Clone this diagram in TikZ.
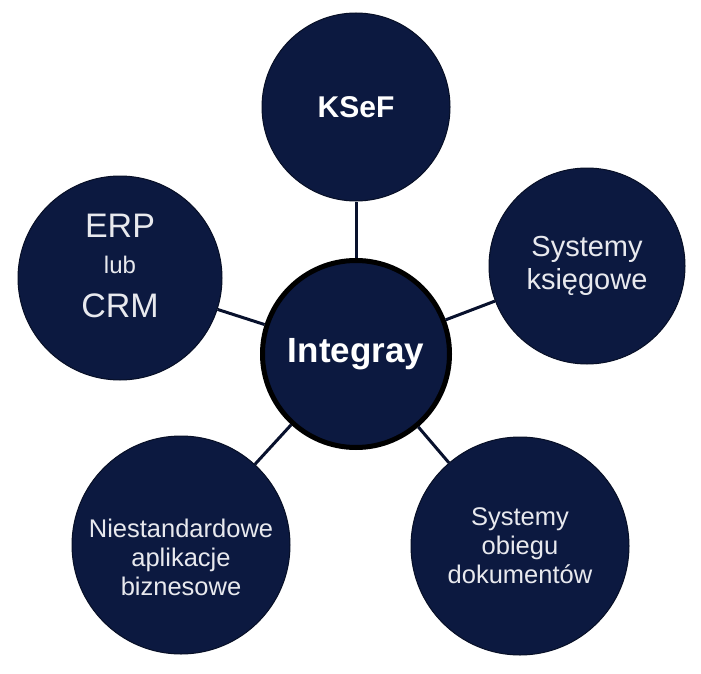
\documentclass[tikz,border=0pt]{standalone}
\usepackage{fontspec}
\setmainfont{Liberation Sans}
\definecolor{navy}{RGB}{12,25,64}
\definecolor{paleText}{RGB}{232,233,238}
\begin{document}
\begin{tikzpicture}[x=1pt,y=-1pt,
    hub/.style={circle,draw=black,line width=5pt,fill=navy,text=white,
      inner sep=0pt,minimum size=187pt,font=\bfseries\fontsize{35}{40}\selectfont},
    sat/.style={circle,draw=navy!60!black,line width=1pt,fill=navy,text=paleText,
      inner sep=0pt,align=center},
    link/.style={line width=3pt,draw=navy!70!black}
    ]
  \useasboundingbox (0,0) rectangle (701,674);

  \node[sat,minimum size=188pt,text=white,font=\bfseries\fontsize{30}{36}\selectfont] (ksef) at (356,107) {KSeF};
  \node[sat,minimum size=196pt,font=\fontsize{29}{33}\selectfont] (ksiegowe) at (587,266) {Systemy\\księgowe};
  \node[sat,minimum size=218pt,font=\fontsize{25.5}{29}\selectfont] (obieg) at (520,546) {Systemy\\obiegu\\dokumentów};
  \node[sat,minimum size=218pt,font=\fontsize{25.5}{29}\selectfont] (biznes) at (181,545)
    {\rule{0pt}{43pt}Niestandardowe\\aplikacje\\biznesowe};
  \node[sat,minimum size=204pt,font=\fontsize{34}{40}\selectfont] (erp) at (120,278)
    {ERP\\[-4pt]{\fontsize{24}{28}\selectfont lub}\\[4pt]CRM\rule[-25pt]{0pt}{25pt}};
  \node[hub] (integray) at (356,354) {Integray};

  \foreach \n in {ksef,ksiegowe,obieg,biznes,erp}
    \draw[link] (integray) -- (\n);
\end{tikzpicture}
\end{document}
